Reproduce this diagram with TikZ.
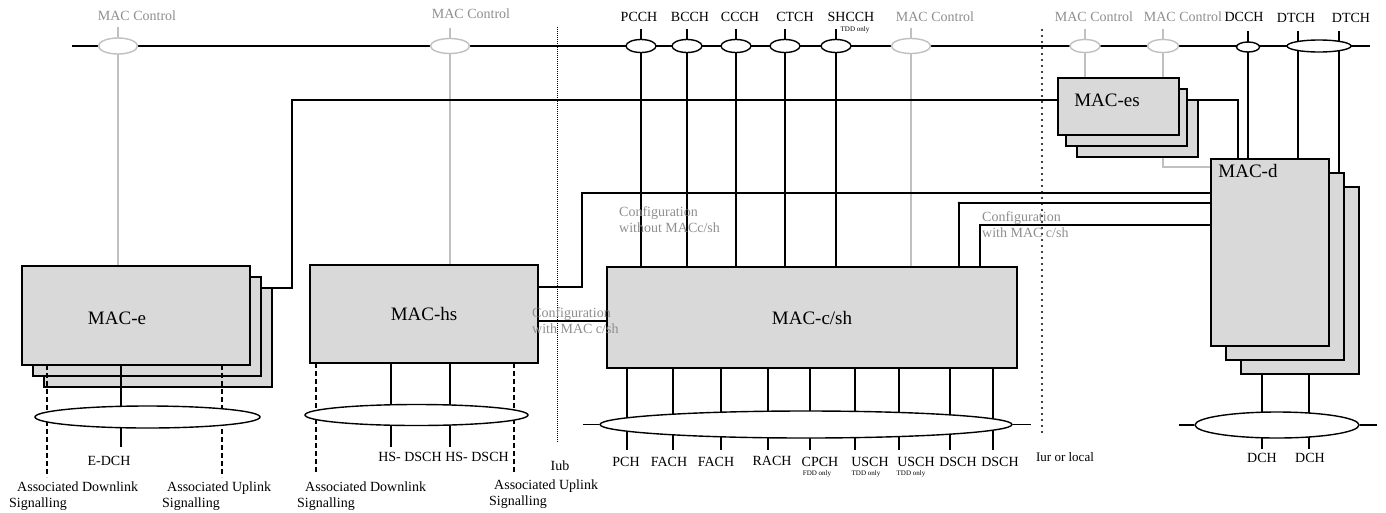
\documentclass[tikz,border=0pt]{standalone}
\usepackage{fontspec}
\setmainfont{Liberation Serif}
\usepackage{tikz}
\usetikzlibrary{shapes.geometric, calc, backgrounds}
\definecolor{macfill}{HTML}{D9D9D9}
\definecolor{ctrlline}{HTML}{C0C0C0}
\definecolor{ctrltext}{HTML}{8E8E8E}
\tikzstyle{macbox} = [
  rectangle, draw=black, fill=macfill, line width=1.5pt,
  inner sep=0pt, outer sep=0pt, font=\fontsize{19}{22}\selectfont
]
\tikzstyle{chanell} = [ellipse, draw=black, fill=white, line width=1.4pt, inner sep=0pt]
\tikzstyle{ctrlell} = [ellipse, draw=ctrlline, fill=white, line width=1.4pt, inner sep=0pt]
\tikzstyle{maclbl} = [inner sep=0pt, font=\fontsize{19}{22}\selectfont]
\tikzstyle{chanlbl} = [inner sep=0pt, font=\fontsize{14}{16}\selectfont]
\tikzstyle{ctrllbl} = [inner sep=0pt, text=ctrltext, font=\fontsize{14}{16}\selectfont]
\tikzstyle{notelbl} = [inner sep=0pt, font=\fontsize{7}{8}\selectfont]
\tikzstyle{cfglbl} = [
  inner sep=0pt, text=ctrltext, align=left, anchor=north west,
  font=\fontsize{14}{16}\selectfont
]
\tikzstyle{siglbl} = [
  inner sep=0pt, align=left, anchor=north west,
  font=\fontsize{14}{16}\selectfont
]
\tikzstyle{chan} = [draw=black, line width=1.4pt]
\tikzstyle{ctrl} = [draw=ctrlline, line width=1.4pt]
\tikzstyle{assoc} = [draw=black, line width=1.4pt, dash pattern=on 5pt off 3pt]
\tikzstyle{iubline} = [draw=black, line width=0.9pt, dash pattern=on 1pt off 1pt]
\tikzstyle{iurline} = [draw=black, line width=2.2pt, dash pattern=on 0pt off 6pt, line cap=round]

\begin{document}
\begin{tikzpicture}[x=1pt, y=-1pt]
  \useasboundingbox (0,0) rectangle (1386,512);

  % Free ends and elbows
  \coordinate (busL) at (72,46);
  \coordinate (busR) at (1370,46);
  \coordinate (esjoin) at (292,100);
  \coordinate (esout) at (1238,100);
  \coordinate (hsjoin) at (582,193);
  \coordinate (cfgB) at (959,203);
  \coordinate (cfgC) at (980,225);
  \coordinate (cfgD) at (570,321);
  \coordinate (dctrl) at (1163,167);
  \coordinate (dtchA) at (1298,31);
  \coordinate (dtchB) at (1339,31);
  \coordinate (iubtop) at (557,27);
  \coordinate (iubbot) at (557,443);
  \coordinate (iurtop) at (1042,30);
  \coordinate (iurbot) at (1042,433);

  % MAC-e (three instances)
  \node[macbox, minimum width=228pt, minimum height=99pt] (mace3) at (158,337.5) {};
  \node[macbox, minimum width=228pt, minimum height=99pt] (mace2) at (147,326.5) {};
  \node[macbox, minimum width=228pt, minimum height=99pt] (mace) at (136,315.5) {};
  \node[maclbl] (macelbl) at (117,318) {MAC-e};

  % MAC-hs
  \node[macbox, minimum width=228pt, minimum height=98pt] (machs) at (424,314) {MAC-hs};

  % MAC-c/sh
  \node[macbox, minimum width=410pt, minimum height=101pt] (macc) at (812,317.5) {MAC-c/sh};

  % MAC-es (three instances)
  \node[macbox, minimum width=121pt, minimum height=57pt] (maces3) at (1137.5,128.5) {};
  \node[macbox, minimum width=121pt, minimum height=57pt] (maces2) at (1126.5,117.5) {};
  \node[macbox, minimum width=121pt, minimum height=57pt] (maces) at (1118.5,106.5) {};
  \node[maclbl] (maceslbl) at (1107,100) {MAC-es};

  % MAC-d (three instances)
  \node[macbox, minimum width=118pt, minimum height=187pt] (macd3) at (1300,280.5) {};
  \node[macbox, minimum width=118pt, minimum height=187pt] (macd2) at (1285,266.5) {};
  \node[macbox, minimum width=118pt, minimum height=187pt] (macd) at (1270,252.5) {};
  \node[maclbl] (macdlbl) at (1248,171) {MAC-d};

  % Logical channels on the top bus
  \node[ctrlell, minimum width=39pt, minimum height=16pt] (ctrle) at (118,46) {};
  \node[ctrlell, minimum width=39pt, minimum height=15pt] (ctrlhs) at (450,46) {};
  \node[chanell, minimum width=30pt, minimum height=13pt] (pcchell) at (641,46) {};
  \node[chanell, minimum width=30pt, minimum height=13pt] (bcchell) at (687,46) {};
  \node[chanell, minimum width=30pt, minimum height=13pt] (ccchell) at (736,46) {};
  \node[chanell, minimum width=30pt, minimum height=13pt] (ctchell) at (785,46) {};
  \node[chanell, minimum width=30pt, minimum height=13pt] (shcchell) at (836,46) {};
  \node[ctrlell, minimum width=39pt, minimum height=15pt] (ctrlc) at (911,46) {};
  \node[ctrlell, minimum width=30pt, minimum height=13pt] (ctrlesa) at (1085,46) {};
  \node[ctrlell, minimum width=31pt, minimum height=13pt] (ctrlesb) at (1163,46) {};
  \node[chanell, minimum width=23pt, minimum height=10pt] (dcchell) at (1248,47) {};
  \node[chanell, minimum width=64pt, minimum height=12pt] (dtchell) at (1319,46) {};

  \node[ctrllbl] (ctrlelbl) at (137,16) {MAC Control};
  \node[ctrllbl] (ctrlhslbl) at (471,14) {MAC Control};
  \node[chanlbl] (pcch) at (639,17) {PCCH};
  \node[chanlbl] (bcch) at (690,17) {BCCH};
  \node[chanlbl] (ccch) at (740,17) {CCCH};
  \node[chanlbl] (ctch) at (795,17) {CTCH};
  \node[chanlbl] (shcch) at (851,17) {SHCCH};
  \node[notelbl] (shcchnote) at (855,30) {TDD only};
  \node[ctrllbl] (ctrlclbl) at (935,17) {MAC Control};
  \node[ctrllbl] (ctrlesalbl) at (1094,17) {MAC Control};
  \node[ctrllbl] (ctrlesblbl) at (1183,17) {MAC Control};
  \node[chanlbl] (dcch) at (1244,17) {DCCH};
  \node[chanlbl] (dtcha) at (1296,18) {DTCH};
  \node[chanlbl] (dtchb) at (1351,18) {DTCH};

  % Connections behind the boxes
  \begin{pgfonlayer}{background}
    \draw[chan] (busL) -- (busR);

    % Control links
    \draw[ctrl] (ctrle.north) ++(0,-10) -- (ctrle.north |- mace.north);
    \draw[ctrl] (ctrlhs.north) ++(0,-10) -- (ctrlhs.north |- machs.north);
    \draw[ctrl] (ctrlc.north) ++(0,-10) -- (ctrlc.north |- macc.north);
    \draw[ctrl] (ctrlesa.north) ++(0,-10) -- (ctrlesa.north |- maces.north);
    \draw[ctrl] (ctrlesb.north) ++(0,-10) -- (dctrl) -- (dctrl -| macd.west);

    % Common channels into MAC-c/sh
    \draw[chan] (pcchell.north) ++(0,-10) -- (pcchell.north |- macc.north);
    \draw[chan] (bcchell.north) ++(0,-10) -- (bcchell.north |- macc.north);
    \draw[chan] (ccchell.north) ++(0,-10) -- (ccchell.north |- macc.north);
    \draw[chan] (ctchell.north) ++(0,-10) -- (ctchell.north |- macc.north);
    \draw[chan] (shcchell.north) ++(0,-10) -- (shcchell.north |- macc.north);

    % Dedicated channels into MAC-d
    \draw[chan] (dcchell.north) ++(0,-10) -- (dcchell.north |- macd.north);
    \draw[chan] (dtchA) -- (dtchA |- macd.north);
    \draw[chan] (dtchB) -- (dtchB |- macd2.north);

    % MAC-e to MAC-es to MAC-d
    \draw[chan] (mace3.north east) -| (esjoin) -- (esjoin -| maces.west);
    \draw[chan] (maces.east |- esout) -- (esout) -- (esout |- macd.north);

    % MAC-hs to MAC-d and MAC-c/sh
    \draw[chan] (machs.north east) ++(0,22) -| (hsjoin) -- (hsjoin -| macd.west);
    \draw[chan] (machs.east |- cfgD) -- (macc.west |- cfgD);

    % MAC-c/sh to MAC-d
    \draw[chan] (cfgB |- macc.north) -- (cfgB) -- (cfgB -| macd.west);
    \fill (cfgB) circle (1.4pt);
    \draw[chan] (cfgC |- macc.north) -- (cfgC) -- (cfgC -| macd.west);

    % Interfaces
    \draw[iubline] (iubtop) -- (iubbot);
    \draw[iurline] (iurtop) -- (iurbot);
  \end{pgfonlayer}

  % Transport channels below MAC-e
  \draw[chan] (mace.south) ++(-15,0) -- ++(0,82);
  \draw[assoc] (mace.south west) ++(25,0) -- ++(0,112);
  \draw[assoc] (mace.south east) ++(-28,0) -- ++(0,112);
  \node[chanell, minimum width=225pt, minimum height=22pt] (elle) at (147.5,417) {};

  % Transport channels below MAC-hs
  \draw[chan] (machs.south) ++(-33,0) -- ++(0,84);
  \draw[chan] (machs.south) ++(26,0) -- ++(0,84);
  \draw[assoc] (machs.south west) ++(6,0) -- ++(0,110);
  \draw[assoc] (machs.south east) ++(-24,0) -- ++(0,110);
  \node[chanell, minimum width=223pt, minimum height=21pt] (ellhs) at (416.5,415) {};

  % Transport channels below MAC-c/sh
  \draw[chan] (macc.south west) ++(20,0) -- ++(0,82);
  \draw[chan] (macc.south west) ++(66,0) -- ++(0,82);
  \draw[chan] (macc.south west) ++(114,0) -- ++(0,82);
  \draw[chan] (macc.south west) ++(161,0) -- ++(0,82);
  \draw[chan] (macc.south west) ++(203,0) -- ++(0,82);
  \draw[chan] (macc.south west) ++(248,0) -- ++(0,82);
  \draw[chan] (macc.south west) ++(292,0) -- ++(0,82);
  \draw[chan] (macc.south west) ++(343,0) -- ++(0,82);
  \draw[chan] (macc.south west) ++(386,0) -- ++(0,82);
  \node[chanell, minimum width=412pt, minimum height=27pt] (ellc) at (806,424.5) {};
  \draw[chan] (ellc.west) -- ++(-16,0);
  \draw[chan] (ellc.east) -- ++(18,0);

  % Transport channels below MAC-d
  \draw[chan] (macd3.south) ++(-38,0) -- ++(0,75);
  \draw[chan] (macd3.south) ++(9,0) -- ++(0,75);
  \node[chanell, minimum width=164pt, minimum height=26pt] (elld) at (1277,425) {};
  \draw[chan] (elld.west) -- ++(-15,0);
  \draw[chan] (elld.east) -- ++(17,0);

  % Configuration labels
  \node[cfglbl] (cfgwithout) at (619,206) {Configuration\\without MACc/sh};
  \node[cfglbl] (cfgwithhs) at (532,307) {Configuration\\with MAC c/sh};
  \node[cfglbl] (cfgwithd) at (982,211) {Configuration\\with MAC c/sh};

  % Bottom labels
  \node[chanlbl] (edch) at (109,461) {E-DCH};
  \node[chanlbl] (hsdscha) at (410,457) {HS- DSCH};
  \node[chanlbl] (hsdschb) at (477,457) {HS- DSCH};
  \node[chanlbl] (iub) at (560,466) {Iub};
  \node[chanlbl] (pch) at (626,462) {PCH};
  \node[chanlbl] (facha) at (669,462) {FACH};
  \node[chanlbl] (fachb) at (716,462) {FACH};
  \node[chanlbl] (rach) at (772,461) {RACH};
  \node[chanlbl] (cpch) at (820,462) {CPCH};
  \node[chanlbl] (uscha) at (870,462) {USCH};
  \node[chanlbl] (uschb) at (916,462) {USCH};
  \node[chanlbl] (dscha) at (958,462) {DSCH};
  \node[chanlbl] (dschb) at (1000,462) {DSCH};
  \node[notelbl] (cpchnote) at (817,474) {FDD only};
  \node[notelbl] (uschanote) at (866,474) {TDD only};
  \node[notelbl] (uschbnote) at (911,474) {TDD only};
  \node[chanlbl, font=\fontsize{13}{15}\selectfont] (iur) at (1065,457) {Iur or local};
  \node[chanlbl] (dcha) at (1262,458) {DCH};
  \node[chanlbl] (dchb) at (1310,458) {DCH};

  % Associated signalling
  \node[siglbl] (edl) at (9,482) {\hspace*{8pt}Associated Downlink\\Signalling};
  \node[siglbl] (eul) at (162,482) {\hspace*{5pt}Associated Uplink\\Signalling};
  \node[siglbl] (hsdl) at (297,482) {\hspace*{8pt}Associated Downlink\\Signalling};
  \node[siglbl] (hsul) at (489,480) {\hspace*{5pt}Associated Uplink\\Signalling};

\end{tikzpicture}
\end{document}
